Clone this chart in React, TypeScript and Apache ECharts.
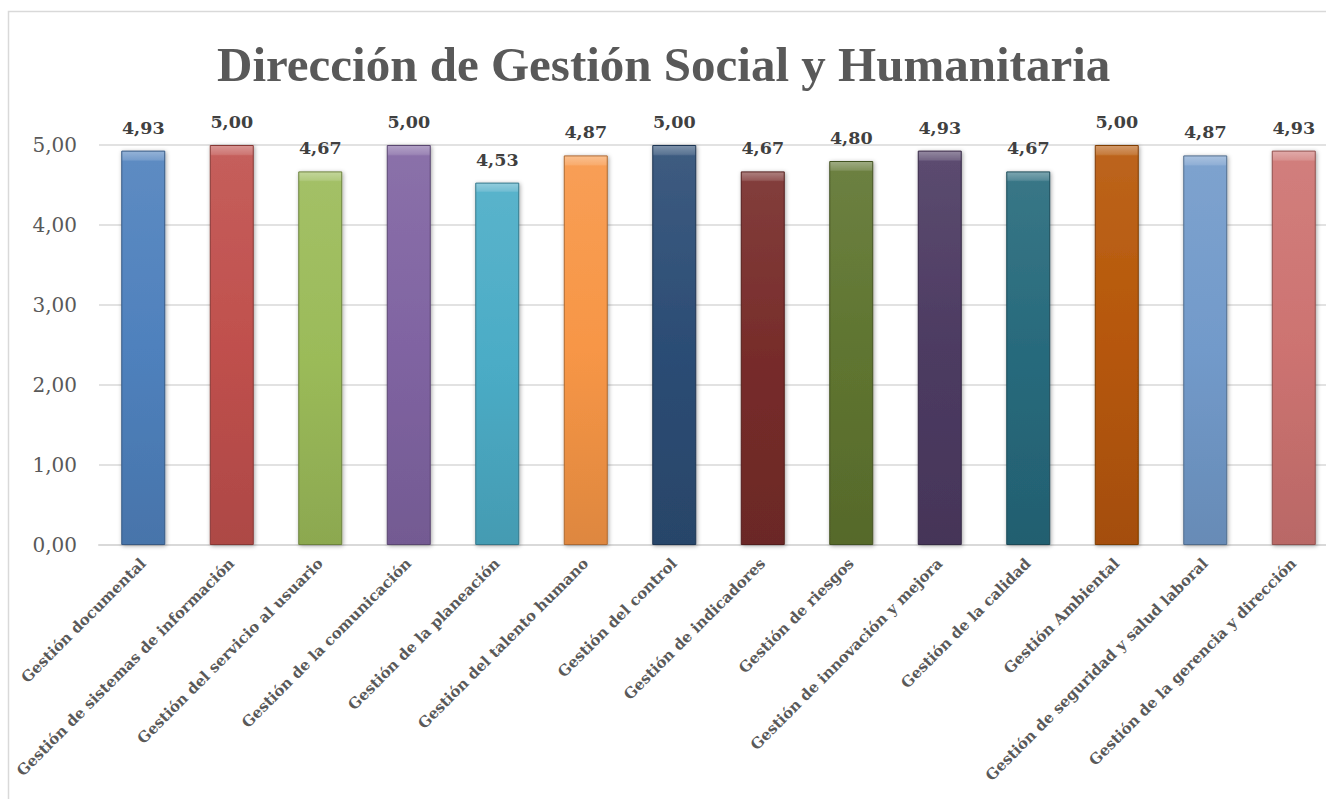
import React, { useEffect, useRef } from "react";
import * as echarts from "echarts";

const TITLE = "Dirección de Gestión Social y Humanitaria";

const categories = [
  "Gestión documental",
  "Gestión de sistemas de información",
  "Gestión del servicio al usuario",
  "Gestión de la comunicación",
  "Gestión de la planeación",
  "Gestión del talento humano",
  "Gestión del control",
  "Gestión de indicadores",
  "Gestión de riesgos",
  "Gestión de innovación y mejora",
  "Gestión de la calidad",
  "Gestión Ambiental",
  "Gestión de seguridad y salud laboral",
  "Gestión de la gerencia y dirección",
];

const values = [4.93, 5.0, 4.67, 5.0, 4.53, 4.87, 5.0, 4.67, 4.8, 4.93, 4.67, 5.0, 4.87, 4.93];

const barColors = [
  "#4F81BD", "#C0504D", "#9BBB59", "#8064A2", "#4BACC6", "#F79646", "#2C4D75",
  "#772C2A", "#5F7530", "#4D3B62", "#276A7C", "#B65708", "#729ACA", "#CD7371",
];

const TITLE_FONT = "'Liberation Serif', 'DejaVu Serif', serif";
const FONT = "'DejaVu Serif', 'Liberation Serif', serif";

function shade(hex: string, f: number): string {
  const n = parseInt(hex.slice(1), 16);
  let r = (n >> 16) & 255, g = (n >> 8) & 255, b = n & 255;
  if (f >= 0) {
    r = r + (255 - r) * f; g = g + (255 - g) * f; b = b + (255 - b) * f;
  } else {
    r = r * (1 + f); g = g * (1 + f); b = b * (1 + f);
  }
  const h = (v: number) => Math.round(Math.max(0, Math.min(255, v))).toString(16).padStart(2, "0");
  return "#" + h(r) + h(g) + h(b);
}

function fmt(v: number): string {
  return v.toFixed(2).replace(".", ",");
}

export default function App() {
  const ref = useRef<HTMLDivElement>(null);
  useEffect(() => {
    if (!ref.current) return;
    const chart = echarts.init(ref.current, undefined, { renderer: "svg" });
    const data = values.map((v, i) => {
      const c = barColors[i];
      return {
        value: v,
        itemStyle: {
          color: new echarts.graphic.LinearGradient(0, 0, 0, 1, [
            { offset: 0, color: shade(c, 0.4) },
            { offset: 0.022, color: shade(c, 0.22) },
            { offset: 0.026, color: shade(c, 0.08) },
            { offset: 0.5, color: c },
            { offset: 1, color: shade(c, -0.1) },
          ]),
          borderColor: shade(c, -0.3),
          borderWidth: 1,
          shadowColor: "rgba(0,0,0,0.35)",
          shadowBlur: 4,
          shadowOffsetX: 1,
          shadowOffsetY: 1,
        },
      };
    });
    chart.setOption({
      animation: false,
      backgroundColor: "#ffffff",
      title: {
        text: TITLE,
        left: 212,
        top: 35,
        textStyle: { fontFamily: TITLE_FONT, fontWeight: "bold", fontSize: 49, color: "#595959" },
      },
      graphic: [
        {
          type: "rect",
          shape: { x: 8.5, y: 11.5, width: 1400, height: 900 },
          style: { fill: "none", stroke: "#D9D9D9", lineWidth: 1.5 },
          silent: true,
        },
      ],
      grid: { left: 99, right: 0, top: 145, bottom: 254, containLabel: false },
      xAxis: {
        type: "category",
        data: categories,
        axisLine: { show: true, lineStyle: { color: "#D9D9D9", width: 2 } },
        axisTick: { show: false },
        axisLabel: {
          interval: 0,
          rotate: 45,
          margin: 16,
          fontFamily: FONT,
          fontWeight: "bold",
          fontSize: 15,
          color: "#595959",
        },
      },
      yAxis: {
        type: "value",
        min: 0,
        max: 5,
        interval: 1,
        axisLine: { show: false },
        axisTick: { show: false },
        splitLine: { lineStyle: { color: "#D9D9D9", width: 1.5 } },
        axisLabel: {
          margin: 22,
          fontFamily: FONT,
          fontSize: 20,
          color: "#595959",
          formatter: (v: number) => fmt(v),
        },
      },
      series: [
        {
          type: "bar",
          data,
          barWidth: 44,
          label: {
            show: true,
            position: "top",
            distance: 14,
            fontFamily: FONT,
            fontWeight: "bold",
            fontSize: 17.5,
            color: "#404040",
            formatter: (p: any) => fmt(p.value),
          },
        },
      ],
    });
    return () => chart.dispose();
  }, []);
  return (
    <div
      style={{ position: "absolute", left: 0, top: 0, width: 1326, height: 799, overflow: "hidden" }}
    >
      <div ref={ref} style={{ width: 1338, height: 799 }} />
    </div>
  );
}
